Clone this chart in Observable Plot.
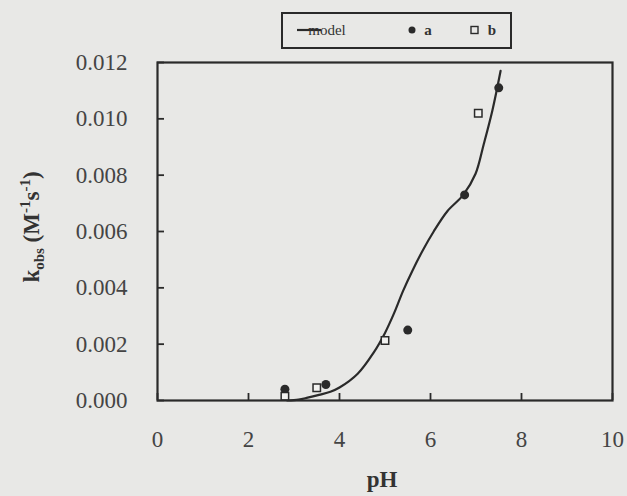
<!DOCTYPE html>
<html><head><meta charset="utf-8">
<script src="https://cdn.jsdelivr.net/npm/d3@7"></script>
<script src="https://cdn.jsdelivr.net/npm/@observablehq/plot@0.6"></script>
<style>
html,body{margin:0;padding:0;background:#e8e8e6;}
svg{display:block}
</style>
</head><body><div id="chart"></div>
<script>
// model curve (pH, k_obs)
const modelPH = [2.85, 3.1, 3.3, 3.55, 3.8, 4.0, 4.4, 4.75, 5.0, 5.2, 5.4, 5.6, 5.82, 6.07, 6.37, 6.72, 6.99, 7.17, 7.36, 7.54];
const modelK  = [0.0000, 0.00003, 0.0001, 0.0002, 0.00031, 0.00046, 0.00095, 0.0017, 0.0024, 0.0031, 0.0039, 0.0046, 0.0053, 0.0060, 0.00672, 0.0073, 0.00805, 0.0091, 0.0103, 0.0117];
// series a (filled circles)
const aPH = [2.8, 3.7, 5.5, 6.75, 7.5];
const aK  = [0.0004, 0.00057, 0.0025, 0.0073, 0.0111];
// series b (open squares)
const bPH = [2.8, 3.5, 5.0, 7.05];
const bK  = [0.00015, 0.00045, 0.00213, 0.0102];
const xTicks = [0, 2, 4, 6, 8, 10];
const yTicks = [0, 0.002, 0.004, 0.006, 0.008, 0.010, 0.012];
const legendLabels = ["model", "a", "b"];
const xLabel = "pH";

const model = modelPH.map((x, i) => ({x, y: modelK[i]}));
const a = aPH.map((x, i) => ({x, y: aK[i]}));
const b = bPH.map((x, i) => ({x, y: bK[i]}));

const ink = "#2a2a2a";
const serif = "'Liberation Serif', 'Times New Roman', serif";
const W = 627, H = 496, mL = 157, mR = 15, mT = 62, mB = 96;
const tick = 7;
const chart = Plot.plot({
  width: W,
  height: H,
  marginLeft: mL,
  marginRight: mR,
  marginTop: mT,
  marginBottom: mB,
  style: {fontFamily: serif, fontSize: "23px", color: "#444", background: "#e8e8e6"},
  x: {domain: [0, 10]},
  y: {domain: [0, 0.012]},
  marks: [
    // inward tick marks
    Plot.tickX(xTicks, {x: d => d, insetTop: (H - mT - mB) - tick, stroke: ink, strokeWidth: 1.8}),
    Plot.tickY(yTicks, {y: d => d, insetRight: (W - mL - mR) - tick, stroke: ink, strokeWidth: 1.8}),
    // tick labels
    Plot.axisX(xTicks, {tickSize: 0, tickPadding: 30, fill: "#444", fontFamily: serif, fontSize: 23, label: null}),
    Plot.axisY(yTicks, {tickSize: 0, tickPadding: 30, fill: "#444", fontFamily: serif, fontSize: 23, tickFormat: d => d.toFixed(3), label: null}),
    Plot.line(model, {x: "x", y: "y", stroke: ink, strokeWidth: 2.2, curve: "catmull-rom"}),
    Plot.dot(a, {x: "x", y: "y", r: 4.5, fill: ink, stroke: "none"}),
    Plot.dot(b, {x: "x", y: "y", symbol: "square", r: 4.2, fill: "#f2f2f0", stroke: ink, strokeWidth: 1.5}),
    Plot.frame({stroke: ink, strokeWidth: 2.2})
  ]
});

const svg = d3.select(chart);
// x axis title
svg.append("text")
  .attr("x", 382).attr("y", 487)
  .attr("text-anchor", "middle").attr("font-family", serif)
  .attr("font-weight", "bold").attr("font-size", 23).attr("fill", "#333")
  .text(xLabel);
// y axis title with sub/superscripts
const yl = svg.append("text")
  .attr("transform", "translate(39,227) rotate(-90)")
  .attr("text-anchor", "middle").attr("font-family", serif)
  .attr("font-weight", "bold").attr("font-size", 23).attr("fill", "#333");
yl.append("tspan").text("k");
yl.append("tspan").attr("font-size", 15).attr("dy", 5).text("obs");
yl.append("tspan").attr("dy", -5).text(" (M");
yl.append("tspan").attr("font-size", 15).attr("dy", -9).text("-1");
yl.append("tspan").attr("dy", 9).text("s");
yl.append("tspan").attr("font-size", 15).attr("dy", -9).text("-1");
yl.append("tspan").attr("dy", 9).text(")");

// legend
const lg = svg.append("g").attr("font-family", serif);
lg.append("rect").attr("x", 282).attr("y", 13).attr("width", 229).attr("height", 35)
  .attr("fill", "none").attr("stroke", ink).attr("stroke-width", 2);
lg.append("line").attr("x1", 297).attr("x2", 321).attr("y1", 30).attr("y2", 30).attr("stroke", ink).attr("stroke-width", 2.2);
lg.append("text").attr("x", 327).attr("y", 35).attr("font-size", 15).attr("fill", "#333").text(legendLabels[0]);
lg.append("circle").attr("cx", 412).attr("cy", 30).attr("r", 3.5).attr("fill", ink);
lg.append("text").attr("x", 428).attr("y", 35).attr("font-size", 15).attr("font-weight", "bold").attr("fill", "#333").text(legendLabels[1]);
lg.append("rect").attr("x", 471).attr("y", 26.5).attr("width", 7).attr("height", 7).attr("fill", "none").attr("stroke", ink).attr("stroke-width", 1.4);
lg.append("text").attr("x", 492).attr("y", 35).attr("font-size", 15).attr("font-weight", "bold").attr("fill", "#333").text(legendLabels[2]);

document.getElementById("chart").append(chart);
</script>
</body></html>
